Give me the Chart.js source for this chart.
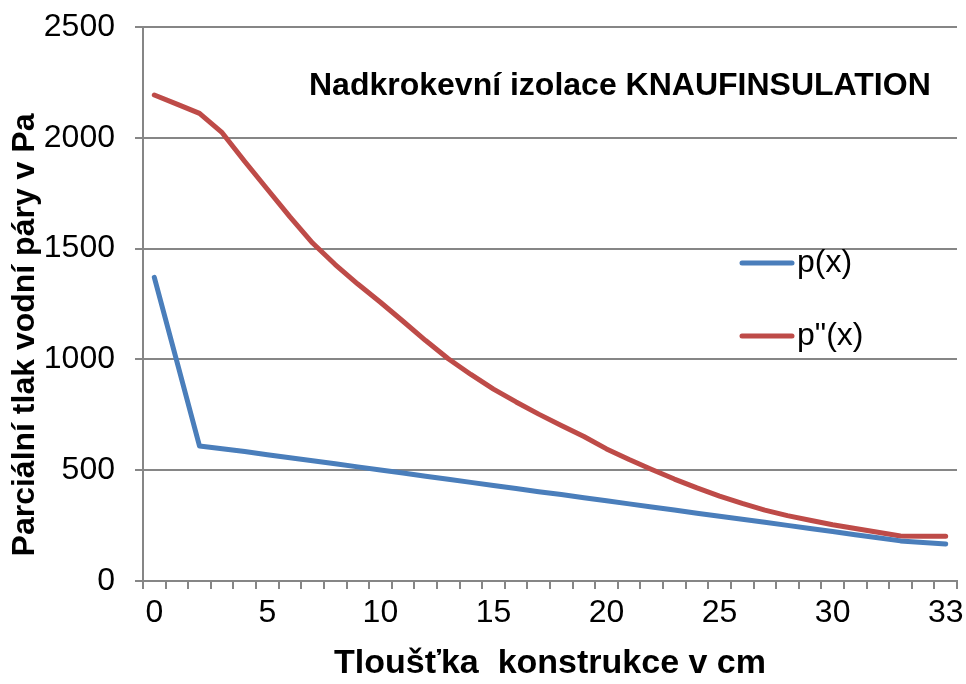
<!DOCTYPE html>
<html>
<head>
<meta charset="utf-8">
<script src="https://cdn.jsdelivr.net/npm/chart.js@4.4.1/dist/chart.umd.min.js"></script>
<style>
  html, body { margin: 0; padding: 0; background: #fff; }
</style>
</head>
<body>
<canvas id="pressureChart" width="966" height="684"></canvas>
<script>
// thickness categories (cm) - only every 5th label is shown, like in the original
const thickness = [
  "0", "1", "2", "3", "4", "5", "6", "7", "8", "9",
  "10", "11", "12", "13", "14", "15", "16", "17", "18", "19",
  "20", "21", "22", "23", "24", "25", "26", "27", "28", "29",
  "30", "31", "31.5", "32", "32.5", "33"
];

// p(x) - partial pressure of water vapour
const pValues = [
  1370, 990, 609, 597, 584, 570, 556, 543, 529, 515,
  501, 487, 473, 459, 445, 431, 417, 403, 390, 376,
  362, 348, 334, 320, 306, 292, 279, 265, 251, 237,
  223, 209, 195, 181, 174, 167
];

// p"(x) - saturated pressure
const pSatValues = [
  2193, 2152, 2110, 2023, 1893, 1768, 1643, 1525, 1428, 1340,
  1258, 1172, 1085, 1003, 932, 866, 808, 753, 702, 652,
  596, 548, 503, 460, 420, 383, 350, 320, 295, 274,
  254, 237, 220, 203, 202, 202
];

const CHART_TITLE = "Nadkrokevní izolace KNAUFINSULATION";
const X_TITLE = "Tloušťka  konstrukce v cm";
const Y_TITLE = "Parciální tlak vodní páry v Pa";

const FONT = "'Liberation Sans', Arial, sans-serif";
const AXIS_GREY = "#868686";

// title, legend and y title sit inside / beside the plot like the Excel chart
const overlayText = {
  id: "overlayText",
  afterDraw(chart) {
    const { ctx, chartArea } = chart;
    ctx.save();
    ctx.fillStyle = "#000";
    ctx.textBaseline = "middle";

    ctx.font = "bold 32px " + FONT;
    ctx.textAlign = "left";
    ctx.fillText(CHART_TITLE, chartArea.left + 166, chartArea.top + 59);

    ctx.font = "32px " + FONT;
    chart.data.datasets.forEach((ds, i) => {
      const y = chartArea.top + 236 + i * 73;
      ctx.strokeStyle = ds.borderColor;
      ctx.lineWidth = 5;
      ctx.lineCap = "round";
      ctx.beginPath();
      ctx.moveTo(chartArea.left + 599, y);
      ctx.lineTo(chartArea.left + 649, y);
      ctx.stroke();
      ctx.fillText(ds.label, chartArea.left + 654, y);
    });

    ctx.font = "bold 32px " + FONT;
    ctx.textAlign = "center";
    ctx.translate(25, 335);
    ctx.rotate(-Math.PI / 2);
    ctx.fillText(Y_TITLE, 0, 0);
    ctx.restore();
  },
};

new Chart(document.getElementById("pressureChart"), {
  type: "line",

  data: {
    labels: thickness,

    datasets: [
      {
        label: "p(x)",
        data: pValues,
        borderColor: "#4A7EBB",
        borderWidth: 5,
        pointRadius: 0,
        borderCapStyle: "round",
        borderJoinStyle: "round",
      },
      {
        label: "p\"(x)",
        data: pSatValues,
        borderColor: "#BE4B48",
        borderWidth: 5,
        pointRadius: 0,
        borderCapStyle: "round",
        borderJoinStyle: "round",
      },
    ],
  },

  options: {
    responsive: false,
    animation: false,
    devicePixelRatio: 1,

    layout: {
      padding: { top: 27, right: 9, left: 0, bottom: 0 },
    },

    plugins: {
      legend: { display: false },
      tooltip: { enabled: false },
    },

    scales: {
      x: {
        offset: true,
        grid: {
          offset: true,
          drawOnChartArea: false,
          tickLength: 8,
          color: AXIS_GREY,
          lineWidth: 2,
        },
        border: { color: AXIS_GREY, width: 2 },
        ticks: {
          autoSkip: false,
          maxRotation: 0,
          padding: 5,
          color: "#000",
          font: { family: FONT, size: 32 },
          callback: (v, i) => (i % 5 === 0 ? thickness[i] : ""),
        },
        title: {
          display: true,
          text: X_TITLE,
          color: "#000",
          font: { family: FONT, size: 34, weight: "bold" },
          padding: { top: 0, bottom: 0 },
        },
        afterFit: (s) => {
          s.height = 103;
          s.paddingLeft = 0;
          s.paddingRight = 0;
        },
      },

      y: {
        min: 0,
        max: 2500,
        grid: {
          color: AXIS_GREY,
          lineWidth: 2,
          tickLength: 8,
        },
        border: { color: AXIS_GREY, width: 2 },
        ticks: {
          stepSize: 500,
          padding: 20,
          color: "#000",
          font: { family: FONT, size: 32 },
          callback: (v) => String(v),
        },
        afterFit: (s) => {
          s.width = 143;
          s.paddingTop = 0;
          s.paddingBottom = 0;
        },
      },
    },
  },

  plugins: [overlayText],
});
</script>
</body>
</html>
